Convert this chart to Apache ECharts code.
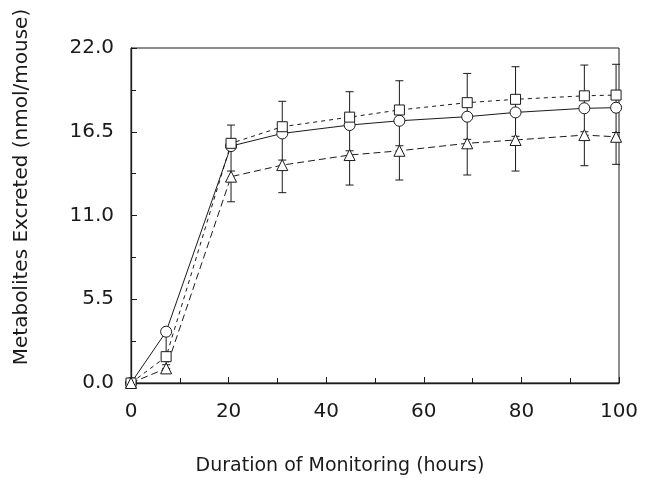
<!DOCTYPE html>
<html>
<head>
<meta charset="utf-8">
<script src="https://cdn.jsdelivr.net/npm/echarts@6/dist/echarts.min.js"></script>
<style>html,body{margin:0;padding:0;background:#fff}#c{width:645px;height:478px}</style>
</head>
<body>
<div id="c"></div>
<script>
const hours    = [0, 7.2, 20.5, 31, 44.8, 55, 68.9, 78.8, 92.9, 99.4];
const squares  = [0, 1.73, 15.74, 16.83, 17.46, 17.93, 18.41, 18.63, 18.86, 18.91];
const circles  = [0, 3.37, 15.56, 16.39, 16.94, 17.22, 17.49, 17.77, 18.04, 18.08];
const triangles= [0, 0.96, 13.55, 14.31, 14.97, 15.25, 15.74, 15.96, 16.28, 16.17];
const errHigh  = [0, 3.37, 16.94, 18.5, 19.13, 19.85, 20.33, 20.77, 20.88, 20.93];
const errLow   = [0, 0.96, 11.9, 12.5, 13.0, 13.33, 13.66, 13.92, 14.27, 14.36];
const triCap   = [null, 1.2, 13.92, 14.64, 15.25, 15.58, 16.0, 16.2, 16.5, 16.45];
const yTicks   = [0, 5.5, 11, 16.5, 22];
const xTitle = 'Duration of Monitoring (hours)';
const yTitle = 'Metabolites Excreted (nmol/mouse)';

const ink = '#1a1a1a';
const font = '"DejaVu Sans", sans-serif';

function pairs(ys){ return hours.map((h,i)=>[h, ys[i]]); }

const errData = hours.map((h,i)=>[h, errLow[i], errHigh[i]]);
const capData = hours.map((h,i)=>[h, triCap[i]]).filter(d=>d[1]!==null);

const chart = echarts.init(document.getElementById('c'));
chart.setOption({
  animation: false,
  backgroundColor: '#fff',
  grid: {left: 131, right: 26, top: 48, bottom: 95, show: true, borderColor: ink, borderWidth: 1, backgroundColor: 'transparent'},
  xAxis: {
    type: 'value', min: 0, max: 100, interval: 20,
    axisLine: {lineStyle: {color: ink, width: 1.3}},
    axisTick: {inside: true, length: 6, lineStyle: {color: ink}},
    minorTick: {show: true, splitNumber: 2, length: 5, lineStyle: {color: ink}},
    splitLine: {show: false},
    axisLabel: {color: ink, fontSize: 20, fontFamily: font, margin: 19}
  },
  yAxis: {
    type: 'value', min: 0, max: 22, interval: 5.5,
    axisLine: {show: true, lineStyle: {color: ink, width: 1.3}},
    axisTick: {show: true, inside: true, length: 6, lineStyle: {color: ink}},
    minorTick: {show: true, splitNumber: 2, length: 5, lineStyle: {color: ink}},
    splitLine: {show: false},
    axisLabel: {color: ink, fontSize: 20, fontFamily: font, margin: 17,
      formatter: v => v.toFixed(1)}
  },
  graphic: [
    {type: 'text', x: 340, y: 466, style: {text: xTitle, fill: ink, font: '19px ' + font, align: 'center', verticalAlign: 'middle'}},
    {type: 'text', x: 22, y: 187, rotation: Math.PI/2, style: {text: yTitle, fill: ink, font: '20px ' + font, align: 'center', verticalAlign: 'middle'}}
  ],
  series: [
    {
      type: 'custom', z: 1,
      data: errData,
      renderItem: function(params, api){
        const x = api.value(0), lo = api.value(1), hi = api.value(2);
        if (hi - lo < 0.01) return null;
        const p1 = api.coord([x, lo]), p2 = api.coord([x, hi]);
        const w = 4;
        const st = {stroke: ink, lineWidth: 1};
        return {type: 'group', children: [
          {type: 'line', shape: {x1: p1[0], y1: p1[1], x2: p2[0], y2: p2[1]}, style: st},
          {type: 'line', shape: {x1: p1[0]-w, y1: p1[1], x2: p1[0]+w, y2: p1[1]}, style: st},
          {type: 'line', shape: {x1: p2[0]-w, y1: p2[1], x2: p2[0]+w, y2: p2[1]}, style: st}
        ]};
      }
    },
    {
      type: 'custom', z: 1,
      data: capData,
      renderItem: function(params, api){
        const p = api.coord([api.value(0), api.value(1)]);
        const w = 4;
        return {type: 'line', shape: {x1: p[0]-w, y1: p[1], x2: p[0]+w, y2: p[1]}, style: {stroke: ink, lineWidth: 1}};
      }
    },
    {
      type: 'line', z: 3, data: pairs(circles),
      symbol: 'circle', symbolSize: 11,
      lineStyle: {color: ink, width: 1, type: 'solid'},
      itemStyle: {color: '#fff', borderColor: ink, borderWidth: 1}
    },
    {
      type: 'line', z: 3, data: pairs(squares),
      symbol: 'rect', symbolSize: 10,
      lineStyle: {color: ink, width: 1, type: [4, 4]},
      itemStyle: {color: '#fff', borderColor: ink, borderWidth: 1}
    },
    {
      type: 'line', z: 3, data: pairs(triangles),
      symbol: 'triangle', symbolSize: 11,
      lineStyle: {color: ink, width: 1, type: [7, 4]},
      itemStyle: {color: '#fff', borderColor: ink, borderWidth: 1}
    }
  ]
});
</script>
</body>
</html>
